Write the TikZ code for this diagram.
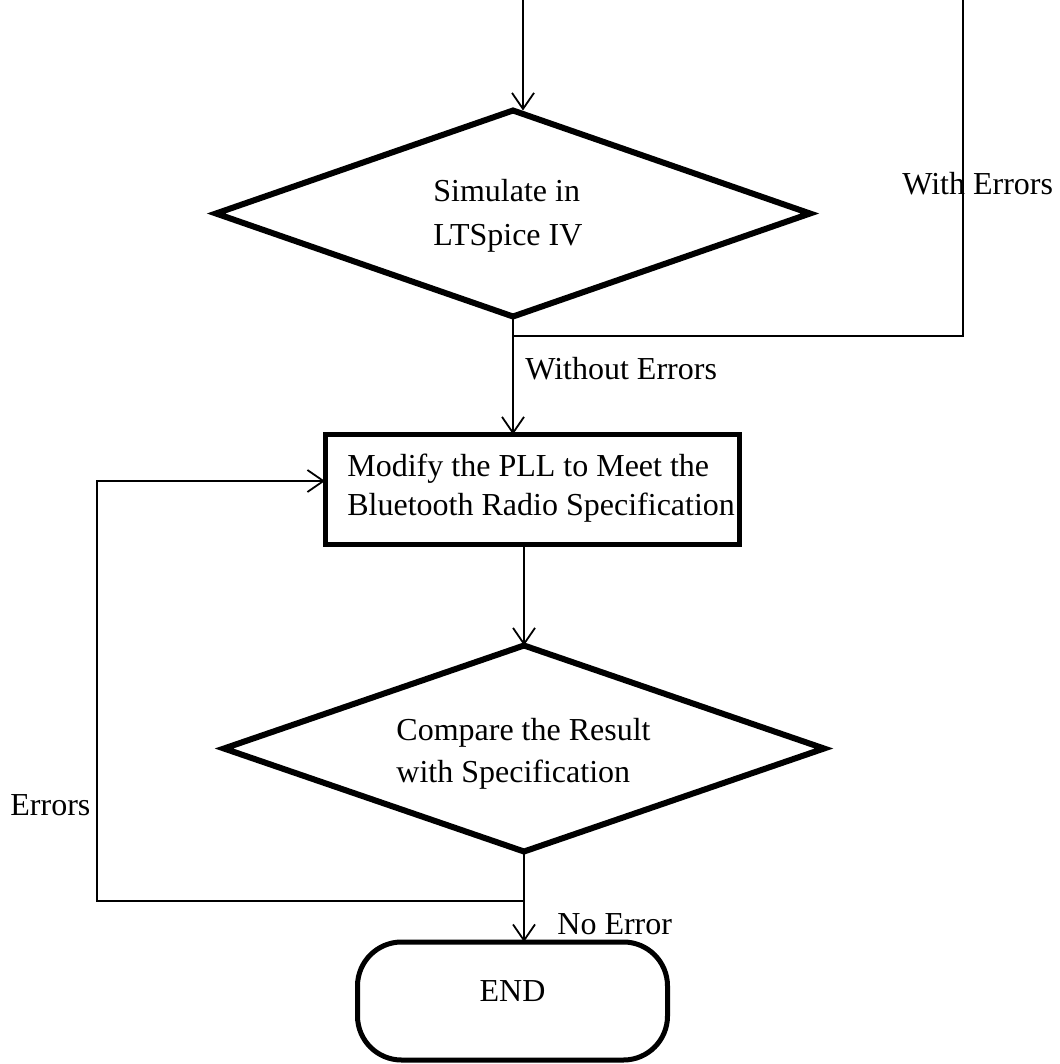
\documentclass[tikz,border=0pt]{standalone}
\usepackage{fontspec}
\setmainfont{Liberation Serif}
\usetikzlibrary{shapes.geometric,arrows.meta}
\begin{document}
\begin{tikzpicture}[x=0.5pt,y=-0.5pt,
  conn/.style={line width=0.9pt},
  arr/.style={conn,-{Straight Barb[length=8pt,width=11pt,line width=0.9pt]}},
  lbl/.style={inner sep=0pt,anchor=base west,font=\fontsize{16}{19}\selectfont},
  decision/.style={diamond,draw,line width=3pt,inner sep=0pt,outer sep=0pt},
  process/.style={rectangle,draw,line width=2.5pt,inner sep=0pt,outer sep=0pt},
  terminal/.style={rectangle,draw,line width=2.5pt,rounded corners=22pt,inner sep=0pt,outer sep=0pt}
  ]
\useasboundingbox (0,0) rectangle (1059,1064);

% shapes
\node[decision,minimum width=297pt,minimum height=103pt] (d1) at (513,213.5) {};
\node[process,minimum width=207pt,minimum height=55pt] (proc) at (532,489.5) {};
\node[decision,minimum width=300pt,minimum height=103pt] (d2) at (524,748.5) {};
\node[terminal,minimum width=155pt,minimum height=59pt] (end) at (512.5,1001) {};

% texts
\node[lbl] (t1a) at (433,202) {Simulate in};
\node[lbl] (t1b) at (433,245) {LTSpice IV};
\node[lbl] (t2a) at (347,476) {Modify the PLL to Meet the};
\node[lbl] (t2b) at (347,515) {Bluetooth Radio Specification};
\node[lbl] (t3a) at (396,740) {Compare the Result};
\node[lbl] (t3b) at (396,782) {with Specification};
\node[font=\fontsize{16}{19}\selectfont,inner sep=0pt,anchor=base] (t4) at (512.5,1001) {END};

\node[lbl] (lwith) at (902,195) {With Errors};
\node[lbl] (lwithout) at (525,379) {Without Errors};
\node[lbl] (lerr) at (10,815) {Errors};
\node[lbl] (lnoerr) at (557,934) {No Error};

% connectors
\coordinate (topin) at (523,0);
\coordinate (loopR) at (963,0);
\coordinate (j1) at (516,336);
\coordinate (loopL) at (97,901);
\coordinate (inL) at (0,481);

\draw[arr] (topin) -- (topin |- d1.north);
\draw[conn] (d1.south) -- (d1.south |- j1) -- (j1 -| loopR) -- (loopR);
\draw[arr] (d1.south) -- (d1.south |- proc.north);
\draw[arr] (d2.north |- proc.south) -- (d2.north);
\draw[arr] (d2.south) -- (d2.south |- end.north);
\draw[arr] (d2.south |- loopL) -- (loopL) |- (proc.west |- inL);
\end{tikzpicture}
\end{document}
